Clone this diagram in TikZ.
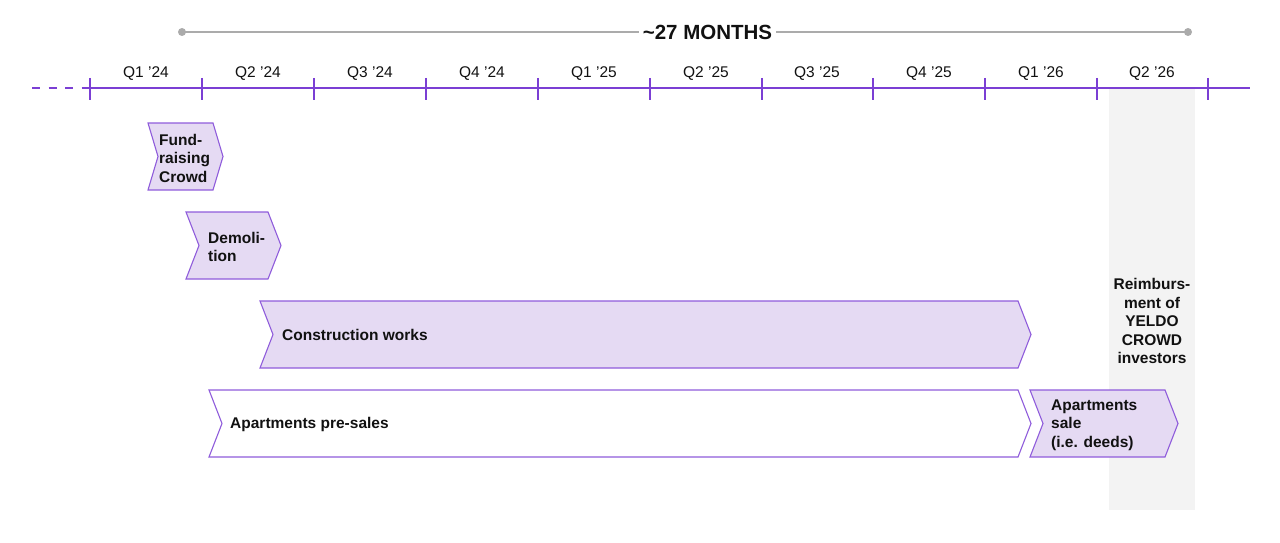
\documentclass[tikz,border=0pt]{standalone}
\usepackage{fontspec}
\setmainfont{Liberation Sans}
\usetikzlibrary{arrows.meta,positioning}
\definecolor{Axis}{HTML}{7B3FD4}
\definecolor{Edge}{HTML}{8F5CDB}
\definecolor{Lav}{HTML}{E5DAF3}
\definecolor{Span}{HTML}{ABABAB}
\definecolor{Band}{HTML}{F3F3F3}
\definecolor{Ink}{HTML}{111111}

\tikzset{
  phase/.style={draw=Edge,line width=1.1pt,line join=miter},
  lbl/.style={font=\bfseries\fontsize{15.5}{18.5}\selectfont,Ink,anchor=west,align=left,inner sep=0pt},
  qlbl/.style={font=\fontsize{15.5}{18}\selectfont,Ink,inner sep=0pt},
}
% chevron: left, top, right, bottom, depth, fill
\newcommand{\chevron}[6]{%
  \filldraw[phase,fill=#6] (#1,#2) -- (#3,#2) -- (#3+#5,{(#2+#4)/2}) -- (#3,#4)
    -- (#1,#4) -- (#1+#5,{(#2+#4)/2}) -- cycle;}

\begin{document}
\begin{tikzpicture}[x=1pt,y=-1pt]
  \useasboundingbox (0,0) rectangle (1280,543);
  % payout column
  \fill[Band] (1109,88) rectangle (1195,510);
  % time axis
  \draw[Axis,line width=2pt,dash pattern=on 8pt off 8.5pt] (32,88) -- (90,88);
  \draw[Axis,line width=2pt] (90,88) -- (1250,88);
  \foreach \x in {90,202,314,426,538,650,762,873,985,1097,1208} {
    \draw[Axis,line width=2pt] (\x,78) -- (\x,100);
  }
  \foreach \x/\q in {146/Q1 ’24,258/Q2 ’24,370/Q3 ’24,482/Q4 ’24,594/Q1 ’25,
                     706/Q2 ’25,817/Q3 ’25,929/Q4 ’25,1041/Q1 ’26,1152/Q2 ’26} {
    \node[qlbl] (q\x) at (\x,74) {\q};
  }
  % overall span
  \coordinate (spanL) at (182,32);
  \coordinate (spanR) at (1188,32);
  \node[font=\bfseries\fontsize{20.5}{24}\selectfont,Ink,inner sep=4pt] (span) at (707.5,32) {\textasciitilde27 MONTHS};
  \draw[Span,line width=1.2pt] (spanL) -- (span.west);
  \draw[Span,line width=1.2pt] (span.east) -- (spanR);
  \fill[Span] (spanL) circle (4);
  \fill[Span] (spanR) circle (4);
  % phases
  \chevron{148}{123}{213}{190}{10}{Lav}
  \node[lbl] (fund) at (159,158) {Fund-\\raising\\Crowd};
  \chevron{186}{212}{268}{279}{13}{Lav}
  \node[lbl] (demo) at (208,247) {Demoli-\\tion};
  \chevron{260}{301}{1018}{368}{13}{Lav}
  \node[lbl] (build) at (282,335) {Construction works};
  \chevron{209}{390}{1018}{457}{13}{white}
  \node[lbl] (presale) at (230,424) {Apartments pre-sales};
  \chevron{1030}{390}{1165}{457}{13}{Lav}
  \node[lbl] (sale) at (1051,425) {Apartments\\sale\\(i.e. deeds)};
  \node[lbl,anchor=center,align=center] (refund) at (1152,321) {Reimburs-\\ment of\\YELDO\\CROWD\\investors};
\end{tikzpicture}
\end{document}
